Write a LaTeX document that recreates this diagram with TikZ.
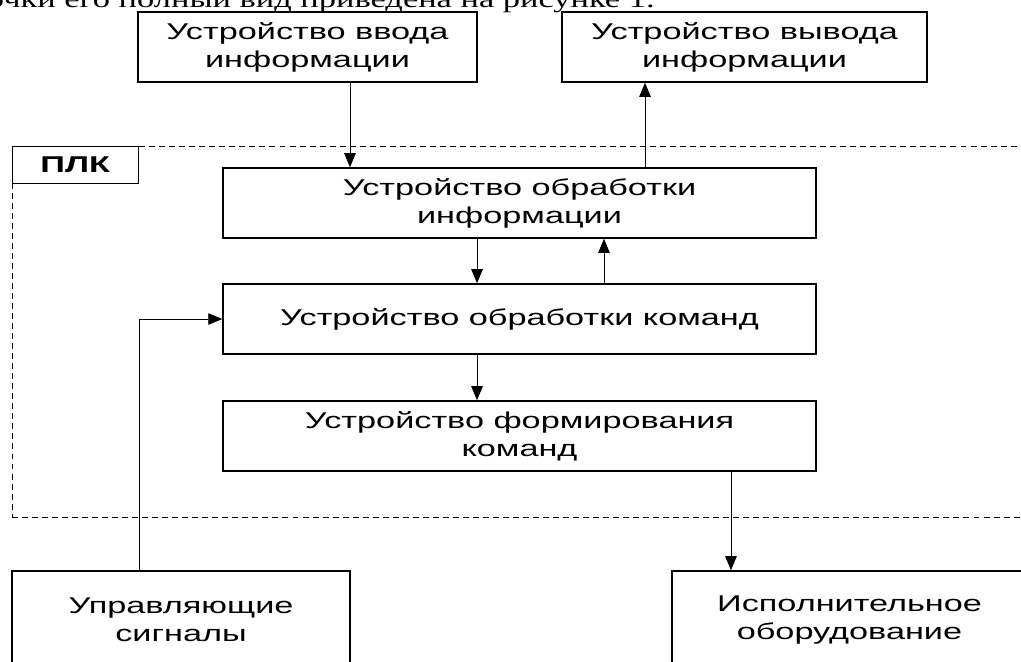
\documentclass[tikz,border=0pt]{standalone}
\usepackage{fontspec}
\setmainfont{Liberation Sans}[FakeStretch=1.5]
\newfontfamily\textoserif{Liberation Serif}[FakeStretch=1.4]
\usetikzlibrary{arrows.meta}
\begin{document}
\begin{tikzpicture}[x=0.02cm, y=-0.02cm,
    bloco/.style={draw, black, line width=0.9pt, inner sep=0pt, align=center,
        minimum height=1.4cm, font=\fontsize{13}{16}\selectfont},
    seta/.style={line width=0.5pt, -{Triangle[length=2.8mm, width=2.3mm]}}]
    \useasboundingbox (0, 0) rectangle (1021, 662);
    \clip (0, 0) rectangle (1021, 662);

    %texto
    \node[anchor=base east, inner sep=0pt, font=\textoserif\fontsize{14}{16}\selectfont] (intro) at (655, 8)
        {схемы с точки его полный вид приведена на рисунке 1.};

    %blocos
    \draw (307.5, 47) node[bloco, minimum width=6.78cm](entrada){Устройство ввода\\информации}
          (744.5, 47) node[bloco, minimum width=7.3cm](saida){Устройство вывода\\информации}
          (526, 331.5) node[draw, dashed, line width=0.5pt, dash pattern=on 3.4pt off 2.3pt,
              minimum width=20.56cm, minimum height=7.42cm](plc){}
          (519.5, 203) node[bloco, minimum width=11.86cm](procinfo){Устройство обработки\\информации}
          (519.5, 319) node[bloco, minimum width=11.86cm](proccmd){Устройство обработки команд}
          (519.5, 436) node[bloco, minimum width=11.86cm](formcmd){Устройство формирования\\команд}
          (181, 620) node[bloco, minimum width=6.76cm, minimum height=1.96cm](sinais){Управляющие\\сигналы}
          (849.5, 620) node[bloco, minimum width=7.1cm, minimum height=1.96cm](exec){Исполнительное\\оборудование};
    \node[draw, line width=0.7pt, anchor=north west, minimum width=2.52cm, minimum height=0.74cm,
        font=\fontsize{13}{14}\selectfont\bfseries] (plk) at (plc.north west) {ПЛК};

    %ligações
    \draw[seta] ([xshift=0.85cm]entrada.south) -- ([xshift=0.85cm]entrada.south |- procinfo.north);
    \draw[seta] ([xshift=-1.99cm]saida.south |- procinfo.north) -- ([xshift=-1.99cm]saida.south);
    \draw[seta] ([xshift=-0.85cm]procinfo.south) -- ([xshift=-0.85cm]procinfo.south |- proccmd.north);
    \draw[seta] ([xshift=1.69cm]proccmd.north) -- ([xshift=1.69cm]proccmd.north |- procinfo.south);
    \draw[seta] ([xshift=-0.85cm]proccmd.south) -- ([xshift=-0.85cm]proccmd.south |- formcmd.north);
    \draw[seta] ([xshift=-0.84cm]sinais.north) |- (proccmd.west);
    \draw[seta] ([xshift=4.23cm]formcmd.south) -- ([xshift=4.23cm]formcmd.south |- exec.north);
\end{tikzpicture}
\end{document}
